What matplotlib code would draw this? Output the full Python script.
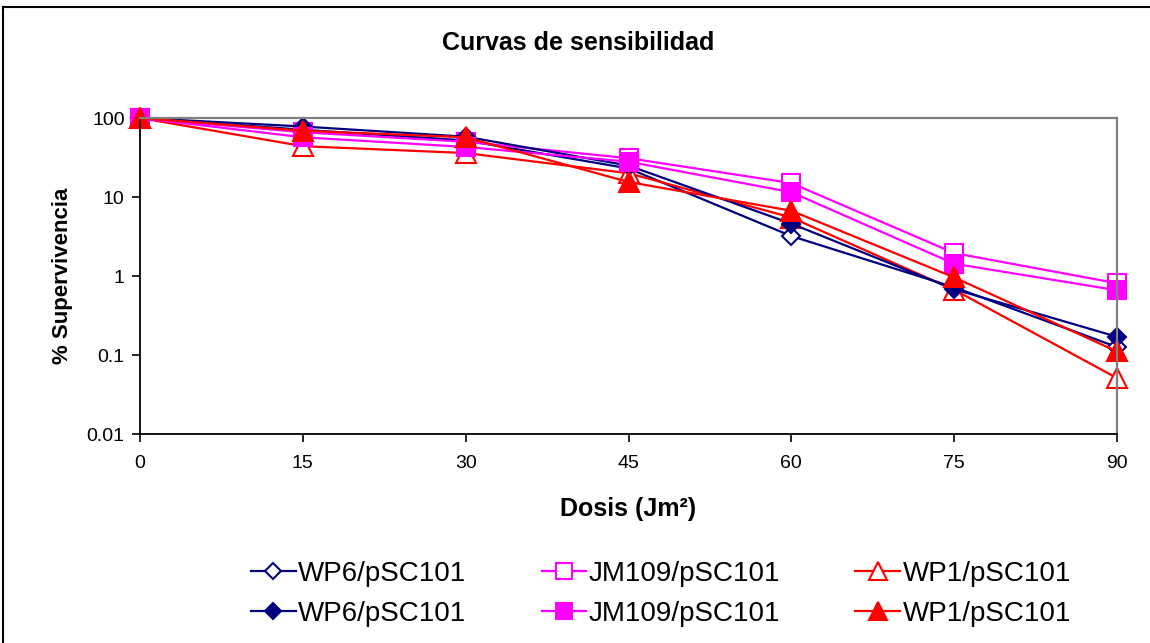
import matplotlib
matplotlib.use('Agg')
import matplotlib.pyplot as plt
from matplotlib.lines import Line2D
from matplotlib.ticker import FixedLocator, NullLocator

plt.rcParams['font.family'] = ['Liberation Sans', 'DejaVu Sans']

# dosis (J/m2) y % supervivencia
dosis = [0, 15, 30, 45, 60, 75, 90]
wp6_a = [100, 71, 52, 23, 3.2, 0.72, 0.126]
wp6_b = [100, 78, 58, 25, 4.6, 0.68, 0.17]
jm109_a = [100, 66, 50, 31, 15, 1.95, 0.81]
jm109_b = [100, 57, 43, 28, 11.5, 1.43, 0.66]
wp1_a = [100, 44, 36, 20, 5.5, 0.67, 0.051]
wp1_b = [100, 69, 57, 15.5, 6.7, 0.96, 0.111]

y_ticks = [0.01, 0.1, 1, 10, 100]
y_labels = ['0.01', '0.1', '1', '10', '100']

NAVY = '#000080'
PINK = '#FF00FF'
RED = '#FF0000'

fig = plt.figure(figsize=(11.5, 6.43), dpi=100)
ax = fig.add_axes([140/1150, 1 - 434/643, (1117-140)/1150, (434-118)/643])

series = [
    (wp6_a, NAVY, 'D', 'white', 9.5, 'WP6/pSC101'),
    (jm109_a, PINK, 's', 'white', 13, 'JM109/pSC101'),
    (wp1_a, RED, '^', 'white', 14, 'WP1/pSC101'),
    (wp6_b, NAVY, 'D', NAVY, 9.5, 'WP6/pSC101'),
    (jm109_b, PINK, 's', PINK, 13, 'JM109/pSC101'),
    (wp1_b, RED, '^', RED, 14, 'WP1/pSC101'),
]
handles = []
for vals, col, mk, face, ms, name in series:
    h, = ax.plot(dosis, vals, color=col, lw=1.6, marker=mk, ms=ms,
                 mfc=face, mec=col, mew=1.5, label=name, clip_on=False)
    handles.append(h)

ax.set_yscale('log')
ax.set_ylim(0.01, 100)
ax.set_xlim(0, 90)
ax.yaxis.set_major_locator(FixedLocator(y_ticks))
ax.yaxis.set_minor_locator(NullLocator())
ax.set_yticklabels(y_labels)
ax.set_xticks(dosis)
ax.tick_params(axis='both', direction='out', length=6, width=1.2, labelsize=14, color='black')
ax.tick_params(axis='x', pad=9)
ax.tick_params(axis='y', pad=5)

ax.spines['left'].set_color('black')
ax.spines['bottom'].set_color('black')
ax.spines['left'].set_linewidth(1.3)
ax.spines['bottom'].set_linewidth(1.3)
ax.spines['top'].set_color('#808080')
ax.spines['right'].set_color('#808080')
ax.spines['top'].set_linewidth(1.6)
ax.spines['right'].set_linewidth(1.6)

ax.set_xlabel('Dosis (Jm²)', fontsize=18, fontweight='bold', labelpad=18)
ax.set_ylabel('% Supervivencia', fontsize=16, fontweight='bold', labelpad=10)
fig.text(578/1150, 1 - 43/643, 'Curvas de sensibilidad', fontsize=18,
         fontweight='bold', ha='center', va='center')

# legend: 2 rows x 3 columns
order = [0, 3, 1, 4, 2, 5]
fig.legend([handles[i] for i in order], [handles[i].get_label() for i in order],
           ncol=3, loc='center', bbox_to_anchor=(661/1150, 1 - 594/643),
           frameon=False, fontsize=20, handlelength=1.6, handletextpad=0.1,
           columnspacing=2.7, labelspacing=0.5, markerscale=0.9,
           borderpad=0.2)

# outer chart border
fig.add_artist(Line2D([3/1150, 1], [1 - 7/643, 1 - 7/643], transform=fig.transFigure, color='black', lw=1.5))
fig.add_artist(Line2D([3/1150, 3/1150], [0, 1 - 7/643], transform=fig.transFigure, color='black', lw=1.5))

fig.savefig('out.png', dpi=100)
